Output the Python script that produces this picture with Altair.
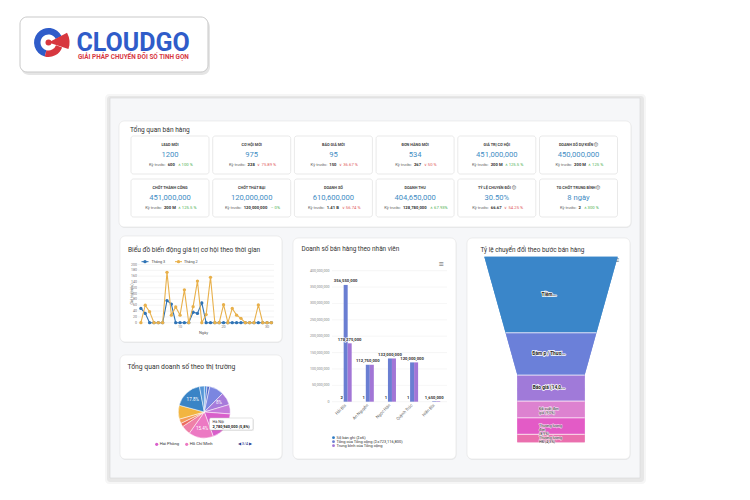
import math
import altair as alt
import pandas as pd

# ------------------------------------------------------------------ data
kpi_titles = ["LEAD MỚI", "CƠ HỘI MỚI", "BÁO GIÁ MỚI", "ĐƠN HÀNG MỚI", "GIÁ TRỊ CƠ HỘI", "DOANH SỐ DỰ KIẾN ⓘ",
              "CHỐT THÀNH CÔNG", "CHỐT THẤT BẠI", "DOANH SỐ", "DOANH THU", "TỶ LỆ CHUYỂN ĐỔI ⓘ", "TG CHỐT TRUNG BÌNH ⓘ"]
kpi_values = ["1200", "975", "95", "534", "451,000,000", "450,000,000",
              "451,000,000", "120,000,000", "610,600,000", "404,650,000", "30.50%", "8 ngày"]
kpi_prev = ["600", "228", "150", "267", "200 M", "200 M",
            "200 M", "120,000,000", "1.41 B", "128,780,000", "66.67", "2"]
kpi_change = ["∧ 100 %", "∨ 75.89 %", "∨ 36.67 %", "∨ 50 %", "∧ 125.5 %", "∧ 125 %",
              "∧ 125.5 %", "– 0%", "∨ 56.74 %", "∧ 67.93%", "∨ 54.25 %", "∧ 300 %"]
kpi_trend = ["up", "down", "down", "down", "up", "up", "up", "up", "down", "up", "down", "up"]

days = list(range(1, 32))
thang3 = [49, 32, 0, 0, 0, 0, 76, 64, 0, 0, 0, 0, 36, 32, 68, 0,
          0, 0, 0, 0, 0, 0, 0, 0, 0, 0, 0, 0, 0, 0, 0]
thang2 = [0, 60, 38, 0, 0, 0, 173, 26, 54, 26, 113, 0, 55, 143, 0, 28,
          156, 0, 0, 62, 0, 49, 26, 15, 0, 0, 0, 61, 0, 0, 0]
line_ticks = list(range(0, 201, 20))
day_ticks = [10, 20, 30]

employees = ["Hải Bùi", "An Nguyễn", "Ngọc Hân", "Quỳnh Trúc", "Hiền Bùi"]
rec_count = [2, 1, 1, 1, 1]
rev_total = [356550000, 112750000, 132000000, 120000000, 1650000]
rev_avg = [178275000, 112750000, 132000000, 120000000, 1650000]
bar_series = ["Số bản ghi (Σ=6)", "Tổng của Tổng cộng (Σ=723,116,800)", "Trung bình của Tổng cộng"]
bar_ticks = list(range(0, 400000001, 50000000))

pie_markets = ["Bắc Ninh", "Đà Nẵng", "Hải Dương", "Quảng Ninh", "Hà Nội", "Hải Phòng", "Hồ Chí Minh",
               "Nam Định", "Thái Bình", "Nghệ An", "Cần Thơ", "Bình Dương", "Đồng Nai"]
pie_share = [1.7, 1.7, 9.0, 8.0, 5.8, 18.2, 15.4, 5.8, 2.2, 2.8, 8.6, 17.8, 3.0]
pie_labels = ["", "", "", "8%", "", "", "15.4%", "", "", "", "", "17.8%", ""]
pie_legend = ["Hải Phòng", "Hồ Chí Minh"]

funnel_stages = ["Tiềm năng", "Đàm phán / Thương lượng", "Báo giá", "Đã xuất đơn giá",
                 "Thương lượng đơn", "Thương lượng HĐ"]
funnel_values = [41.0, 22.8, 14.0, 9.0, 8.9, 4.3]
funnel_labels = ["Tiềm...", "Đàm p / Thươ...", "Báo giá (14,0...", "Đã xuất đơn\ngiá (9,0%)",
                 "Thương lượng\nđơn\n(8,9%)", "Thương lượng\nHĐ (4,3%)"]

# ------------------------------------------------------------------ style
FONT = "Roboto"
C_TITLE = "#333333"
C_VALUE = "#3f8dc4"
C_UP = "#4caf50"
C_DOWN = "#e05a5a"
C_BLUE = "#2f73b5"
C_ORANGE = "#e8b04b"
BAR_COLORS = ["#2f7cc4", "#6a7ed2", "#a276d6"]
PIE_COLORS = ["#4d8fdc", "#5468c8", "#7b86e0", "#a77bdb", "#c47bd9", "#d95fcb", "#ec79c3",
              "#ef80a8", "#ec6b5e", "#f39a57", "#f2b540", "#3a84c6", "#5596d6"]
FUNNEL_COLORS = ["#3a86c9", "#6b80d9", "#a07ad9", "#dd82d0", "#e35bc6", "#ea6fae"]

W, H, M = 734, 484, 8


def px(v):
    return v - M


def py(v):
    return v - M


IX = alt.Scale(domain=[M, M + W], range=[0, W], nice=False, zero=False)
IY = alt.Scale(domain=[M, M + H], range=[0, H], nice=False, zero=False)
layers = []


def rects(rows, **mark):
    df = pd.DataFrame(rows, columns=["x0", "y0", "x1", "y1"])
    return alt.Chart(df).mark_rect(**mark).encode(
        x=alt.X("x0:Q", scale=IX, axis=None), x2=alt.X2("x1"),
        y=alt.Y("y0:Q", scale=IY, axis=None), y2=alt.Y2("y1"))


def texts(rows, **mark):
    df = pd.DataFrame(rows, columns=["x", "y", "t", "c", "s"])
    mark.setdefault("font", FONT)
    mark.setdefault("baseline", "middle")
    return alt.Chart(df).mark_text(**mark).encode(
        x=alt.X("x:Q", scale=IX, axis=None), y=alt.Y("y:Q", scale=IY, axis=None),
        text="t:N", color=alt.Color("c:N", scale=None), size=alt.Size("s:Q", scale=None))


def arc(cx, cy, t0, t1, r0, r1, color):
    return alt.Chart(pd.DataFrame({"k": [0]})).mark_arc(
        theta=math.radians(t0), theta2=math.radians(t1), innerRadius=r0, outerRadius=r1, color=color
    ).encode(x=alt.value(px(cx)), y=alt.value(py(cy)))


def tw(s, fs):
    w = 0.0
    for ch in s:
        if ch in " ,.:":
            w += 0.27
        elif ch.isdigit():
            w += 0.56
        elif ch.isupper():
            w += 0.64
        else:
            w += 0.5
    return w * fs


# ------------------------------------------------------------------ logo
layers.append(rects([(21, 19, 210, 75)], fill="#000000", opacity=0.10, cornerRadius=8))
layers.append(rects([(20, 17, 208, 72)], fill="white", stroke="#c9c9c9", strokeWidth=1, cornerRadius=7))
layers.append(arc(48.5, 42.5, 195, 425, 8, 14.5, "#2f5cc9"))
layers.append(arc(48.5, 42.5, 110, 195, 8, 14.5, "#d7373f"))
layers.append(arc(48.5, 42.5, 62, 108, 0, 21, "#d7373f"))
layers.append(arc(48.5, 42.5, 0, 360, 0, 3, "#d7373f"))
layers.append(texts([(76.5, 50.6, "CLOUDGO", "#2f5cc9", 25)], align="left", baseline="alphabetic",
                    fontWeight="bold"))
layers.append(texts([(78, 58.5, "GIẢI PHÁP CHUYỂN ĐỔI SỐ TINH GỌN", "#d7373f", 6.4)], align="left",
                    baseline="alphabetic", fontWeight="bold"))

# ------------------------------------------------------------------ frame & cards
layers.append(rects([(105, 94, 646, 484)], fill="#000000", opacity=0.035, cornerRadius=4))
layers.append(rects([(107, 96, 644, 482)], fill="#000000", opacity=0.06, cornerRadius=3))
layers.append(rects([(110, 98, 640, 478)], fill="#f6f7f9", stroke="#d6d6d6", strokeWidth=0.6))
cards = [(119, 121, 631, 227), (120, 236, 282, 342), (120, 355, 282, 459),
         (293, 238, 456, 459), (467, 238, 630, 459)]
layers.append(rects([(a + 0.5, b + 1, c + 0.5, d + 1) for a, b, c, d in cards],
                    fill="#000000", opacity=0.05, cornerRadius=5))
layers.append(rects(cards, fill="white", stroke="#e2e2e2", strokeWidth=0.6, cornerRadius=5))

# card titles
layers.append(texts([(130, 130, "Tổng quan bán hàng", C_TITLE, 6.6),
                     (128, 250, "Biểu đồ biến động giá trị cơ hội theo thời gian", C_TITLE, 6.6),
                     (127.5, 366.5, "Tổng quan doanh số theo thị trường", C_TITLE, 6.8),
                     (301.5, 248.5, "Doanh số bán hàng theo nhân viên", C_TITLE, 6.4),
                     (480.5, 250, "Tỷ lệ chuyển đổi theo bước bán hàng", C_TITLE, 6.4)],
                    align="left"))

# ------------------------------------------------------------------ KPI boxes
KX = [131 + 81.7 * i for i in range(6)]
KY = [136, 179]
KW, KH = 78, 38
boxes = []
t_rows, v_rows, p1_rows, p2_rows, c_rows = [], [], [], [], []
for k in range(12):
    x0 = KX[k % 6]
    y0 = KY[k // 6]
    boxes.append((x0, y0, x0 + KW, y0 + KH))
    cx = x0 + KW / 2
    t_rows.append((cx, y0 + 9, kpi_titles[k], "#444444", 3.8))
    v_rows.append((cx, y0 + 19.3, kpi_values[k], C_VALUE, 7.6))
    fs = 4.2
    a, b, c = "Kỳ trước: ", kpi_prev[k], kpi_change[k]
    wa, wb, wc = tw(a, fs), tw(b, fs) * 1.05, tw(c, fs)
    gap = 2.5
    start = cx - (wa + wb + gap + wc) / 2
    p1_rows.append((start, y0 + 28.5, a, "#666666", fs))
    p2_rows.append((start + wa, y0 + 28.5, b, "#333333", fs))
    c_rows.append((start + wa + wb + gap, y0 + 28.5, c, C_UP if kpi_trend[k] == "up" else C_DOWN, fs))
layers.append(rects(boxes, fill="white", stroke="#dadada", strokeWidth=0.6, cornerRadius=2.5))
layers.append(texts(t_rows, align="center", fontWeight="bold"))
layers.append(texts(v_rows, align="center"))
layers.append(texts(p1_rows, align="left"))
layers.append(texts(p2_rows, align="left", fontWeight="bold"))
layers.append(texts(c_rows, align="left"))

# ------------------------------------------------------------------ line chart
LX = alt.Scale(domain=[1, 31], range=[px(140.9), px(271.4)], nice=False, zero=False)
LY = alt.Scale(domain=[0, 200], range=[py(322.7), py(264.5)], nice=False, zero=False)
grid_l = pd.DataFrame({"v": line_ticks, "t": [str(v) for v in line_ticks]})
layers.append(alt.Chart(grid_l).mark_rule(color="#e8e8e8", strokeWidth=0.5).encode(
    y=alt.Y("v:Q", scale=LY, axis=None), x=alt.value(px(138)), x2=alt.value(px(274))))
layers.append(alt.Chart(grid_l).mark_text(align="right", baseline="middle", font=FONT, fontSize=3.6,
                                          color="#777777").encode(
    y=alt.Y("v:Q", scale=LY, axis=None), x=alt.value(px(137)), text="t:N"))
dt = pd.DataFrame({"d": day_ticks, "t": [str(d) for d in day_ticks]})
layers.append(alt.Chart(dt).mark_text(align="center", baseline="middle", font=FONT, fontSize=3.8,
                                      color="#777777").encode(
    x=alt.X("d:Q", scale=LX, axis=None), y=alt.value(py(327)), text="t:N"))
for vals, col in [(thang3, C_BLUE), (thang2, C_ORANGE)]:
    df = pd.DataFrame({"d": days, "v": vals})
    layers.append(alt.Chart(df).mark_line(color=col, strokeWidth=1.1).encode(
        x=alt.X("d:Q", scale=LX, axis=None), y=alt.Y("v:Q", scale=LY, axis=None)))
    layers.append(alt.Chart(df).mark_circle(color=col, size=11, opacity=1).encode(
        x=alt.X("d:Q", scale=LX, axis=None), y=alt.Y("v:Q", scale=LY, axis=None)))
# legend + axis titles
for (x0, col) in [(141.5, C_BLUE), (175, C_ORANGE)]:
    layers.append(alt.Chart(pd.DataFrame({"k": [0]})).mark_rule(color=col, strokeWidth=1).encode(
        x=alt.value(px(x0)), x2=alt.value(px(x0 + 7)), y=alt.value(py(261.7))))
    layers.append(alt.Chart(pd.DataFrame({"k": [0]})).mark_circle(color=col, size=11, opacity=1).encode(
        x=alt.value(px(x0 + 3.5)), y=alt.value(py(261.7))))
layers.append(texts([(151.5, 261.7, "Tháng 3", "#444444", 3.8), (184, 261.7, "Tháng 2", "#444444", 3.8)],
                    align="left"))
layers.append(texts([(203.5, 332.5, "Ngày", "#555555", 4)], align="center"))
layers.append(texts([(131.5, 294, "Giá trị (triệu)", "#555555", 3.8)], align="center", angle=270))

# ------------------------------------------------------------------ bar chart
BX = alt.Scale(domain=employees, range=[px(334.6), px(445.3)], paddingInner=0.457, paddingOuter=0.2285)
BO = alt.Scale(domain=bar_series, paddingInner=0, paddingOuter=0)
BY = alt.Scale(domain=[0, 400000000], range=[py(401.7), py(270.7)], nice=False, zero=False)
grid_b = pd.DataFrame({"v": bar_ticks, "t": [f"{v:,}" for v in bar_ticks]})
layers.append(alt.Chart(grid_b).mark_rule(color="#ececec", strokeWidth=0.5).encode(
    y=alt.Y("v:Q", scale=BY, axis=None), x=alt.value(px(332)), x2=alt.value(px(447))))
layers.append(alt.Chart(grid_b).mark_text(align="right", baseline="middle", font=FONT, fontSize=3.6,
                                          color="#888888").encode(
    y=alt.Y("v:Q", scale=BY, axis=None), x=alt.value(px(329.5)), text="t:N"))
bar_rows = []
for i, e in enumerate(employees):
    for s, v, col in zip(bar_series, [rec_count[i], rev_total[i], rev_avg[i]], BAR_COLORS):
        bar_rows.append({"emp": e, "series": s, "val": v, "col": col})
bar_df = pd.DataFrame(bar_rows)
layers.append(alt.Chart(bar_df).mark_bar().encode(
    x=alt.X("emp:N", scale=BX, axis=None),
    xOffset=alt.XOffset("series:N", scale=BO),
    y=alt.Y("val:Q", scale=BY, axis=None),
    fill=alt.Fill("col:N", scale=None)))
lab_rows = []
for i, e in enumerate(employees):
    lab_rows.append({"emp": e, "series": bar_series[1], "val": rev_total[i], "t": f"{rev_total[i]:,}"})
    if rev_avg[i] != rev_total[i]:
        lab_rows.append({"emp": e, "series": bar_series[2], "val": rev_avg[i], "t": f"{rev_avg[i]:,}"})
    if i < 4:
        lab_rows.append({"emp": e, "series": bar_series[0], "val": rec_count[i], "t": str(rec_count[i])})
lab_df = pd.DataFrame(lab_rows)
for stroke_layer in (True, False):
    mk = dict(align="center", baseline="bottom", font=FONT, fontSize=4.2, fontWeight="bold", dy=-1.5)
    if stroke_layer:
        mk.update(stroke="white", strokeWidth=1.2, color="white")
    else:
        mk.update(color="#333333")
    layers.append(alt.Chart(lab_df).mark_text(**mk).encode(
        x=alt.X("emp:N", scale=BX, axis=None), xOffset=alt.XOffset("series:N", scale=BO),
        y=alt.Y("val:Q", scale=BY, axis=None), text="t:N"))
emp_df = pd.DataFrame({"emp": employees})
layers.append(alt.Chart(emp_df).mark_text(align="right", baseline="middle", angle=315, font=FONT,
                                          fontSize=4.2, color="#666666").encode(
    x=alt.X("emp:N", scale=BX, axis=None, bandPosition=0.72), y=alt.value(py(405)), text="emp:N"))
leg_b = []
for j, (s, col) in enumerate(zip(bar_series, BAR_COLORS)):
    yy = 437.7 + 4 * j
    layers.append(alt.Chart(pd.DataFrame({"k": [0]})).mark_circle(color=col, size=8, opacity=1).encode(
        x=alt.value(px(333.5)), y=alt.value(py(yy))))
    leg_b.append((336.5, yy, s, "#333333", 4.0))
layers.append(texts(leg_b, align="left"))
layers.append(texts([(441, 264, "≡", "#555555", 9), (616.5, 259.5, "≡", "#555555", 9)],
                    align="center", fontWeight="bold"))

# ------------------------------------------------------------------ funnel
tot = sum(funnel_values)
NECK_F, NECK_W = 0.637, 0.505
FX = alt.Scale(domain=[-1, 1], range=[px(484.3), px(617.7)], nice=False, zero=False)
FY = alt.Scale(domain=[0, tot], range=[py(256.7), py(442.3)], nice=False, zero=False)


def fwidth(f):
    return 1 - (1 - NECK_W) * min(f, NECK_F) / NECK_F


flabs = []
cum = 0.0
for i, (st, v) in enumerate(zip(funnel_stages, funnel_values)):
    a, b = cum, cum + v
    cum = b
    # fine horizontal slices (fill under the smooth area)
    n = max(2, int(v * 2))
    sl = []
    for k in range(n):
        p0 = a + v * k / n
        p1 = a + v * (k + 1) / n
        w = fwidth((p0 + p1) / 2 / tot)
        sl.append({"p0": p0, "p1": p1, "l": -w, "r": w})
    layers.append(alt.Chart(pd.DataFrame(sl)).mark_rect(color=FUNNEL_COLORS[i]).encode(
        y=alt.Y("p0:Q", scale=FY, axis=None), y2=alt.Y2("p1"),
        x=alt.X("l:Q", scale=FX, axis=None), x2=alt.X2("r")))
    pts = [a] + ([NECK_F * tot] if a < NECK_F * tot < b else []) + [b]
    rows = [{"pos": p, "l": -fwidth(p / tot), "r": fwidth(p / tot)} for p in pts]
    layers.append(alt.Chart(pd.DataFrame(rows)).mark_area(
        orient="horizontal", color=FUNNEL_COLORS[i], opacity=1).encode(
        y=alt.Y("pos:Q", scale=FY, axis=None),
        x=alt.X("l:Q", scale=FX, axis=None), x2=alt.X2("r")))
    flabs.append({"i": i, "x": 0.0, "mid": (a + b) / 2, "t": funnel_labels[i], "b": b,
                  "wl": -fwidth(b / tot), "wr": fwidth(b / tot)})
fl = pd.DataFrame(flabs)
layers.append(alt.Chart(fl[fl.i < 5]).mark_rule(color="white", strokeWidth=0.8).encode(
    y=alt.Y("b:Q", scale=FY, axis=None), x=alt.X("wl:Q", scale=FX, axis=None), x2=alt.X2("wr")))
fl_c = fl[fl.i < 3]
fl_l = fl[fl.i >= 3]
for halo in (True, False):
    mk = dict(align="center", baseline="middle", font=FONT, fontSize=4.8, fontWeight="bold", dx=-2)
    mk.update(dict(stroke="white", strokeWidth=1.4, color="white") if halo else dict(color="#222222"))
    layers.append(alt.Chart(fl_c).mark_text(**mk).encode(
        x=alt.X("x:Q", scale=FX, axis=None), y=alt.Y("mid:Q", scale=FY, axis=None), text="t:N"))
for halo in (True, False):
    mk = dict(align="left", baseline="middle", font=FONT, fontSize=3.7, lineBreak="\n", lineHeight=4.0,
              dx=-12)
    mk.update(dict(stroke="white", strokeWidth=0.9, color="white", opacity=0.8) if halo
              else dict(color="#2a2a2a"))
    layers.append(alt.Chart(fl_l).mark_text(**mk).encode(
        x=alt.X("x:Q", scale=FX, axis=None), y=alt.Y("mid:Q", scale=FY, axis=None), text="t:N"))

# ------------------------------------------------------------------ pie
PCX, PCY, PR = 204.3, 412.0, 26
pie_df = pd.DataFrame({"i": list(range(len(pie_markets))), "m": pie_markets, "share": pie_share,
                       "col": PIE_COLORS})
layers.append(alt.Chart(pie_df).mark_arc(outerRadius=PR, stroke="white", strokeWidth=0.5).encode(
    theta=alt.Theta("share:Q", stack=True), order=alt.Order("i:Q"),
    fill=alt.Fill("col:N", scale=None), x=alt.value(px(PCX)), y=alt.value(py(PCY))))
prow = []
c0 = 0.0
for s, lab in zip(pie_share, pie_labels):
    mid = (c0 + s / 2) / 100 * 2 * math.pi
    c0 += s
    if lab:
        prow.append((PCX + 17 * math.sin(mid), PCY - 17 * math.cos(mid), lab, "white", 4.6))
layers.append(texts(prow, align="center"))
# tooltip
layers.append(rects([(210.5, 419, 254, 431)], fill="#000000", opacity=0.08, cornerRadius=1.5))
layers.append(rects([(209.5, 418, 253, 430)], fill="white", stroke="#c4c4c4", strokeWidth=0.5,
                    cornerRadius=1.5))
layers.append(texts([(212.5, 421.5, pie_markets[4], "#333333", 3.8)], align="left"))
layers.append(texts([(212.5, 426.6, "2,780,940,000 (5,8%)", "#222222", 3.9)], align="left",
                    fontWeight="bold"))
# legend
for xx, col in [(156.7, PIE_COLORS[5]), (186.7, PIE_COLORS[6])]:
    layers.append(alt.Chart(pd.DataFrame({"k": [0]})).mark_circle(color=col, size=10, opacity=1).encode(
        x=alt.value(px(xx)), y=alt.value(py(444.3))))
layers.append(texts([(159.8, 444.3, pie_legend[0], "#333333", 4.2),
                     (189.8, 444.3, pie_legend[1], "#333333", 4.2)], align="left"))
layers.append(texts([(245, 444.3, "◀ 3/4 ▶", "#2b3a8f", 4.2)], align="center"))

chart = alt.layer(*layers).properties(
    width=W, height=H, padding=0, autosize=alt.AutoSizeParams(type="none")
).resolve_scale(x="independent", y="independent").configure_view(stroke=None)

chart.save("out.html", embed_options={"renderer": "svg", "actions": False})
